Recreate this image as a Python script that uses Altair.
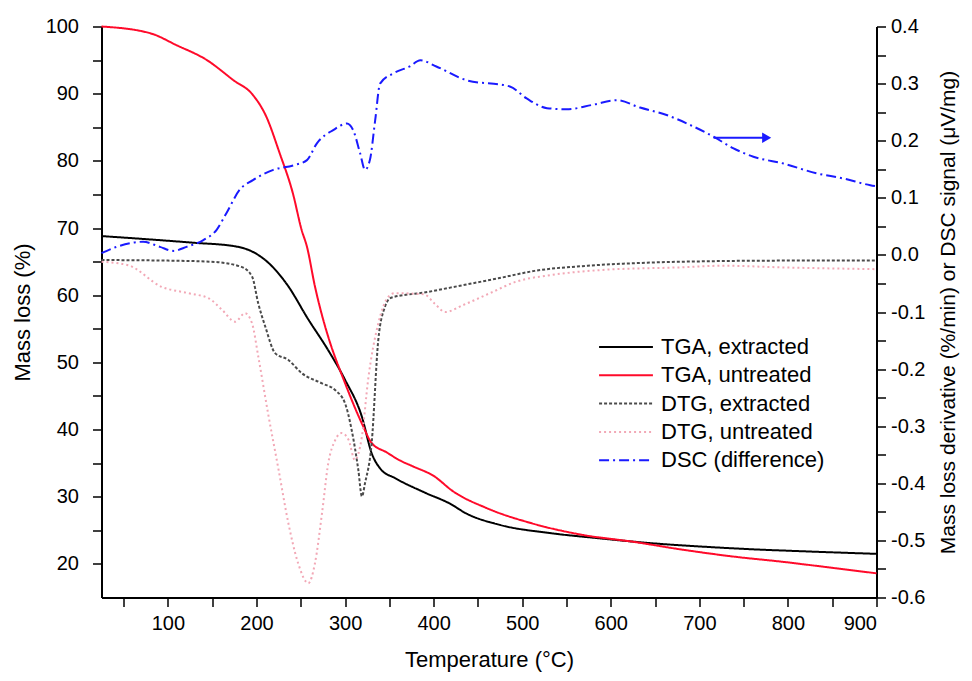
import altair as alt
import pandas as pd

# ---------------- data ----------------
series_names = ["TGA, extracted", "TGA, untreated", "DTG, extracted", "DTG, untreated", "DSC (difference)"]
series_colors = ["#000000", "#ff0a2a", "#4a4a4a", "#f2a8b6", "#1a1aff"]
series_dash = [[1, 0], [1, 0], [3, 2], [2, 3], [10, 4, 2, 4]]
series_width = [2.0, 2.0, 1.1, 1.1, 2.0]

# TGA (left axis, %)
tga_ext_T = [25, 80, 130, 175, 198, 212, 235, 258, 281, 300, 319, 330, 341, 356, 392, 418, 437, 475, 531, 588, 644, 700, 756, 813, 900]
tga_ext_v = [68.8, 68.3, 67.8, 67.3, 66.3, 65.0, 61.5, 56.5, 51.8, 47.4, 41.9, 36.5, 34.0, 32.8, 30.5, 29.0, 27.5, 25.8, 24.6, 23.8, 23.1, 22.6, 22.2, 21.9, 21.5]

tga_unt_T = [25, 80, 110, 144, 174, 196, 211, 226, 241, 251, 257, 266, 275, 281, 300, 319, 330, 347, 362, 377, 400, 422, 460, 512, 569, 625, 682, 738, 795, 851, 900]
tga_unt_v = [100.0, 99.0, 97.2, 95.0, 92.0, 89.8, 86.6, 81.2, 75.2, 69.7, 67.2, 61.3, 56.5, 53.8, 46.9, 40.9, 38.0, 36.6, 35.4, 34.5, 33.1, 30.8, 28.3, 26.0, 24.3, 23.3, 22.1, 21.1, 20.3, 19.4, 18.6]

# DTG / DSC (right axis)
dtg_ext_T = [25, 100, 149, 183, 195, 202, 210, 221, 236, 251, 274, 289, 300, 307.5, 315, 319, 322.5, 330, 337.5, 345, 352, 389, 433, 473, 514, 574, 635, 715, 800, 900]
dtg_ext_r = [-0.009, -0.010, -0.012, -0.021, -0.038, -0.085, -0.126, -0.172, -0.184, -0.207, -0.225, -0.237, -0.260, -0.307, -0.377, -0.423, -0.400, -0.330, -0.149, -0.091, -0.075, -0.066, -0.053, -0.041, -0.028, -0.019, -0.014, -0.011, -0.010, -0.010]

dtg_unt_T = [25, 55, 93, 123, 146, 161, 176, 187, 195, 202, 213, 225, 236, 247, 258.5, 266, 274, 281, 289, 296, 304, 311, 319, 326, 337.5, 349, 356, 389, 401, 413, 433, 465, 493, 534, 594, 675, 727, 796, 900]
dtg_unt_r = [-0.012, -0.018, -0.056, -0.067, -0.076, -0.096, -0.117, -0.102, -0.120, -0.178, -0.277, -0.377, -0.470, -0.540, -0.575, -0.540, -0.452, -0.365, -0.324, -0.312, -0.324, -0.359, -0.318, -0.219, -0.120, -0.073, -0.067, -0.069, -0.085, -0.100, -0.088, -0.066, -0.047, -0.035, -0.026, -0.022, -0.019, -0.022, -0.025]

dsc_T = [25, 42, 72, 91, 106, 121, 140, 155, 166, 181, 196, 219, 242, 257, 268, 287, 302, 309, 317, 322.5, 328, 334, 339.5, 354.5, 373, 385, 403, 437, 486, 505, 528, 550, 580, 607, 633, 663, 689, 716, 738, 761, 795, 832, 862, 893, 900]
dsc_r = [0.003, 0.014, 0.023, 0.014, 0.007, 0.014, 0.026, 0.044, 0.073, 0.114, 0.131, 0.149, 0.157, 0.166, 0.195, 0.219, 0.230, 0.219, 0.178, 0.149, 0.166, 0.236, 0.300, 0.318, 0.330, 0.341, 0.330, 0.306, 0.295, 0.274, 0.257, 0.255, 0.263, 0.271, 0.258, 0.245, 0.228, 0.207, 0.187, 0.172, 0.160, 0.143, 0.134, 0.122, 0.120]

# arrow annotation pointing to the right axis
arrow_T = [716, 772]
arrow_r = [0.205, 0.205]
arrow_head_T = [776]

x_ticks = list(range(50, 901, 50))
left_ticks = list(range(20, 101, 5))
right_ticks = [round(-0.6 + 0.05 * i, 2) for i in range(21)]

# ---------------- tables ----------------
def frame(name, xs, ys, col):
    return pd.DataFrame({"T": xs, col: ys, "series": name})

left_df = pd.concat([frame(series_names[0], tga_ext_T, tga_ext_v, "v"),
                     frame(series_names[1], tga_unt_T, tga_unt_v, "v")])
right_df = pd.concat([frame(series_names[2], dtg_ext_T, dtg_ext_r, "r"),
                      frame(series_names[3], dtg_unt_T, dtg_unt_r, "r"),
                      frame(series_names[4], dsc_T, dsc_r, "r")])
arrow_df = pd.DataFrame({"T": arrow_T, "r": arrow_r})
head_df = pd.DataFrame({"T": arrow_head_T, "r": [arrow_r[0]]})

FONT = "Liberation Sans"

x_enc = alt.X("T:Q", scale=alt.Scale(domain=[25, 900], nice=False, zero=False),
              axis=alt.Axis(values=x_ticks, title="Temperature (°C)",
                            labelExpr="datum.value % 100 == 0 ? datum.label : ''",
                            labelPadding=7, titlePadding=16, titleFontSize=22))

legend = alt.Legend(orient="none", legendX=496.5, legendY=309.5, title=None,
                    symbolType="stroke", symbolSize=2900, symbolStrokeWidth=2,
                    labelFontSize=22, labelFont=FONT, labelColor="black", labelLimit=400,
                    labelOffset=7, rowPadding=6.3, clipHeight=22, padding=0)

color_enc = alt.Color("series:N", scale=alt.Scale(domain=series_names, range=series_colors), legend=legend)
dash_enc = alt.StrokeDash("series:N", scale=alt.Scale(domain=series_names, range=series_dash), legend=legend)
width_enc = alt.StrokeWidth("series:N", scale=alt.Scale(domain=series_names, range=series_width), legend=None)

left = alt.Chart(left_df).mark_line(interpolate="monotone").encode(
    x=x_enc,
    y=alt.Y("v:Q", scale=alt.Scale(domain=[15, 100], nice=False, zero=False),
            axis=alt.Axis(values=left_ticks, orient="left", title="Mass loss (%)",
                          labelExpr="datum.value % 10 == 0 ? datum.label : ''",
                          labelPadding=14, titlePadding=11, titleFontSize=22)),
    color=color_enc, strokeDash=dash_enc, strokeWidth=width_enc,
)

y_right = alt.Y("r:Q", scale=alt.Scale(domain=[-0.6, 0.4], nice=False, zero=False),
                axis=alt.Axis(values=right_ticks, orient="right",
                              title="Mass loss derivative (%/min) or DSC signal (μV/mg)",
                              labelExpr="round(datum.value*100) % 10 == 0 ? (datum.value < -0.001 ? '-' : '') + format(abs(datum.value), '.1f') : ''",
                              labelPadding=5, titleAngle=270, titlePadding=34, titleFontSize=21))

right_lines = alt.Chart(right_df).mark_line(interpolate="monotone").encode(
    x=x_enc, y=y_right, color=color_enc, strokeDash=dash_enc, strokeWidth=width_enc,
)
arrow_line = alt.Chart(arrow_df).mark_line(color="#1a1aff", strokeWidth=2).encode(x=x_enc, y=y_right)
arrow_head = alt.Chart(head_df).mark_point(shape="triangle-right", filled=True, color="#1a1aff",
                                           size=110, opacity=1).encode(x=x_enc, y=y_right)

right = alt.layer(right_lines, arrow_line, arrow_head)

chart = alt.layer(left, right).resolve_scale(y="independent").properties(
    width=775, height=571,
    autosize=alt.AutoSizeParams(type="none"),
    padding={"left": 93.5, "top": 18.5, "right": 87, "bottom": 75},
    background="white",
).configure_view(stroke=None).configure_axis(
    grid=False, labelFont=FONT, titleFont=FONT, labelFontSize=20,
    labelColor="black", titleColor="black", domainColor="black", tickColor="black",
    domainWidth=2, tickWidth=1.5, tickSize=9, titleFontWeight="normal",
)

chart.save("out.html", embed_options={"renderer": "svg", "actions": False})
